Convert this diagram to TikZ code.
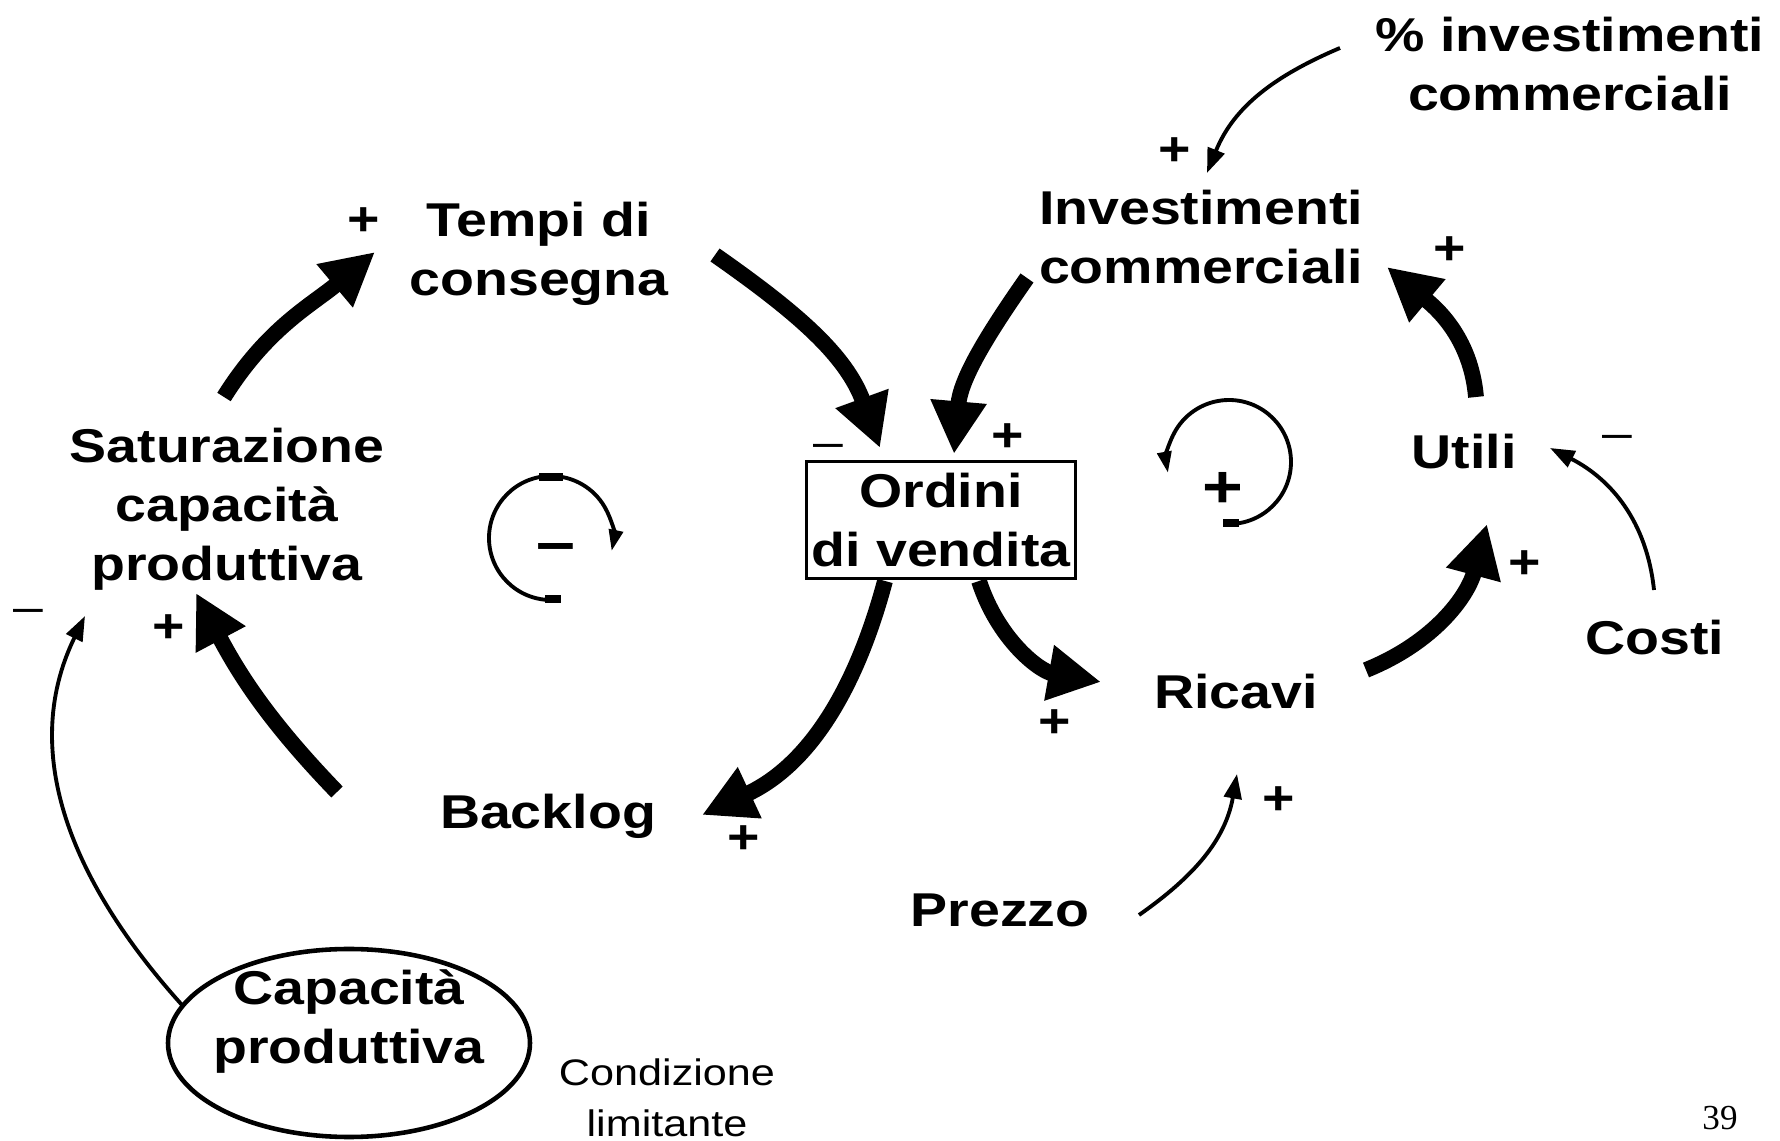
\documentclass[tikz,border=0pt]{standalone}
\usepackage{fontspec}
\setmainfont{Liberation Sans}
\newfontfamily\pagefont{Liberation Serif}
\usetikzlibrary{arrows.meta,shapes.geometric}

\tikzset{
  var/.style={font=\bfseries\fontsize{13.5}{16.8}\selectfont,align=center,xscale=1.17,inner sep=1pt},
  sgn/.style={font=\bfseries\fontsize{13.5}{14}\selectfont,xscale=1.17,inner sep=0pt},
  neg/.style={font=\fontsize{13}{14}\selectfont,xscale=1.17,inner sep=0pt},
  loopsgn/.style={font=\bfseries\fontsize{17}{18}\selectfont,xscale=1.17,inner sep=0pt},
  big/.style={line width=4.5pt,-{Triangle[length=15pt,width=15pt]}},
  lnk/.style={line width=1.1pt,-{Triangle[length=7pt,width=5pt]}},
  loopline/.style={line width=1.1pt,-{Triangle[length=6pt,width=4pt]}},
}

\begin{document}
\begin{tikzpicture}
 \useasboundingbox (0,0) rectangle (17.80,-11.41);
 % variables
 \node[var] (tempi) at (5.39,-2.54) {Tempi di\\consegna};
 \node[var] (perc) at (15.70,-0.64) {\% investimenti\\commerciali};
 \node[var] (inv) at (12.01,-2.37) {Investimenti\\commerciali};
 \node[var] (sat) at (2.27,-5.09) {Saturazione\\capacità\\produttiva};
 \node[var,draw,line width=0.6pt,inner xsep=1.2pt,inner ysep=3.3pt] (ord) at (9.41,-5.20) {Ordini\\di vendita};
 \node[var] (utili) at (14.64,-4.52) {Utili};
 \node[var] (costi) at (16.55,-6.38) {Costi};
 \node[var] (ricavi) at (12.36,-6.92) {Ricavi};
 \node[var] (backlog) at (5.48,-8.16) {Backlog};
 \node[var] (prezzo) at (10.00,-9.10) {Prezzo};
 \node[var] (cap) at (3.49,-10.22) {Capacità\\produttiva};
 \draw[line width=1.3pt] ([yshift=-0.21cm]cap.center) ellipse[x radius=1.81,y radius=0.94];
 \node[align=center,font=\fontsize{10.5}{14.5}\selectfont,xscale=1.17] (cond) at (6.67,-10.98) {Condizione\\limitante};
 \node[font=\pagefont\fontsize{10}{11}\selectfont] (page) at (17.20,-11.18) {39};

 % polarities
 \node[sgn] (s1) at (3.64,-2.22) {+};
 \node[sgn] (s2) at (11.75,-1.52) {+};
 \node[sgn] (s3) at (14.50,-2.51) {+};
 \node[sgn] (s4) at (10.08,-4.38) {+};
 \node[sgn] (s5) at (15.25,-5.65) {+};
 \node[sgn] (s6) at (1.69,-6.29) {+};
 \node[sgn] (s7) at (10.55,-7.24) {+};
 \node[sgn] (s8) at (7.44,-8.40) {+};
 \node[sgn] (s9) at (12.79,-8.01) {+};
 \node[neg] (n1) at (8.28,-4.51) {–};
 \node[neg] (n2) at (16.17,-4.42) {–};
 \node[neg] (n3) at (0.28,-6.16) {–};

 % links
 \draw[big] ([shift={(-0.03,1.12)}]sat.center) to[out=58,in=-140] ([shift={(-1.64,0.02)}]tempi.center);
 \draw[big] ([shift={(1.76,-0.01)}]tempi.center) to[out=-35,in=110] ([shift={(-0.61,0.72)}]ord.center);
 \draw[big] ([shift={(-1.74,-0.41)}]inv.center) to[out=-125,in=85] ([shift={(0.13,0.66)}]ord.center);
 \draw[big] ([shift={(0.12,0.55)}]utili.center) to[out=95,in=-40] ([shift={(1.86,-0.30)}]inv.center);
 \draw[big] ([shift={(-0.56,-0.61)}]ord.center) to[out=-105,in=25] ([shift={(1.54,0.01)}]backlog.center);
 \draw[big] ([shift={(0.38,-0.61)}]ord.center) to[out=-72,in=170] ([shift={(-1.35,0.10)}]ricavi.center);
 \draw[big] ([shift={(1.30,0.22)}]ricavi.center) to[out=22,in=-105] ([shift={(0.23,-0.72)}]utili.center);
 \draw[big] ([shift={(-2.11,0.24)}]backlog.center) to[out=134,in=-62] ([shift={(-0.31,-0.84)}]sat.center);
 \draw[lnk] ([shift={(-1.67,0.17)}]cap.center) to[out=132,in=-116] ([shift={(-1.42,-1.07)}]sat.center);
 \draw[lnk] ([shift={(-2.30,0.16)}]perc.center) to[out=203,in=68] ([shift={(0.06,0.64)}]inv.center);
 \draw[lnk] ([shift={(-0.01,0.48)}]costi.center) to[out=96,in=-27] ([shift={(0.86,0.04)}]utili.center);
 \draw[lnk] ([shift={(1.39,-0.05)}]prezzo.center) to[out=35,in=-100] ([shift={(0.01,-0.82)}]ricavi.center);

 % loops
 \coordinate (loopB) at (5.51,-5.38);
 \coordinate (loopR) at (12.29,-4.62);
 \draw[loopline] ([yshift=-0.62cm]loopB) arc[start angle=270,end angle=-12,radius=0.62];
 \draw[line width=2.2pt] ([shift={(-0.12,0.61)}]loopB) -- ++(0.24,0);
 \draw[line width=2.2pt] ([shift={(-0.06,-0.61)}]loopB) -- ++(0.16,0);
 \node[loopsgn] (lb) at (5.56,-5.53) {–};
 \draw[loopline] ([yshift=-0.62cm]loopR) arc[start angle=-90,end angle=190,radius=0.62];
 \draw[line width=2.2pt] ([shift={(-0.06,-0.61)}]loopR) -- ++(0.16,0);
 \node[loopsgn] (lr) at (12.23,-4.90) {+};
\end{tikzpicture}
\end{document}
